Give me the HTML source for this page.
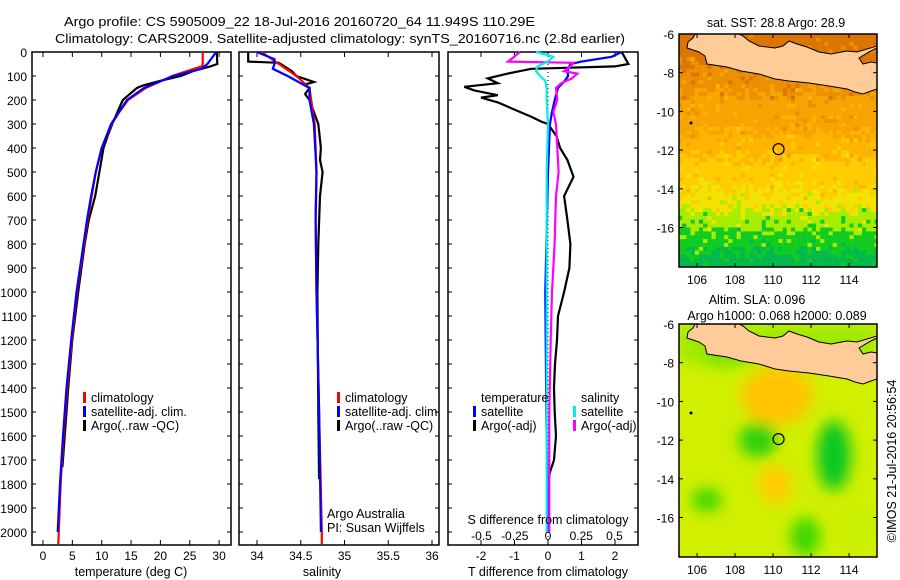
<!DOCTYPE html>
<html><head><meta charset="utf-8">
<style>
html,body{margin:0;padding:0;background:#fff;}
svg{display:block;font-family:"Liberation Sans",sans-serif;}
</style></head>
<body>
<svg id="fig" width="900" height="580" viewBox="0 0 900 580" xmlns="http://www.w3.org/2000/svg">
<rect width="900" height="580" fill="#fff"/>
<text x="64" y="26" font-size="13" textLength="471" lengthAdjust="spacingAndGlyphs">Argo profile: CS 5905009_22 18-Jul-2016 20160720_64 11.949S 110.29E</text>
<text x="55" y="43" font-size="13" textLength="570" lengthAdjust="spacingAndGlyphs">Climatology: CARS2009. Satellite-adjusted climatology: synTS_20160716.nc (2.8d earlier)</text>
<g id="g"></g>
</svg>
<script>
// ---------- data ----------
const depthTicks=[0,100,200,300,400,500,600,700,800,900,1000,1100,1200,1300,1400,1500,1600,1700,1800,1900,2000];
const tempTicks=[0,5,10,15,20,25,30];
const salTicks=[34,34.5,35,35.5,36];
const tdiffTicks=[-2,-1,0,1,2];
const sdiffTicks=[-0.5,-0.25,0,0.25,0.5];
const sdiffTickLabels=["-0.5","-0.25","0","0.25","0.5"];

const tArgoDepth=[0,50,60,70,80,100,120,140,150,200,250,300,350,400,500,600,700,800,1000,1200,1400,1500,1600,1730];
const tArgoVal=[29.6,29.7,28.5,27,25.5,23.5,20,17,16,13.6,12.7,11.8,11,10.3,9.6,8.9,7.8,7.1,6.0,5.0,4.3,4.0,3.7,3.3];
const tClimDepth=[0,55,60,80,100,150,200,250,300,400,500,600,700,800,1000,1200,1400,1600,1800,2000,2050];
const tClimVal=[27.2,27.2,27,24.5,22,17.5,14.5,13,11.7,10,9,8.3,7.6,7.0,5.8,4.9,4.1,3.5,3.0,2.7,2.6];
const tSatDepth=[0,50,70,100,150,200,300,400,500,600,700,800,1000,1200,1400,1600,1800,2000];
const tSatVal=[29.5,28,27,22.2,17.2,14.3,11.6,10,9,8.2,7.5,6.9,5.7,4.8,4.0,3.4,2.9,2.5];

const sArgoDepth=[0,40,45,80,100,125,135,150,175,200,250,300,400,450,500,600,800,1000,1500,1780];
const sArgoVal=[33.9,33.9,34.25,34.4,34.45,34.65,34.55,34.6,34.55,34.6,34.65,34.7,34.73,34.72,34.75,34.72,34.7,34.69,34.7,34.71];
const sClimDepth=[0,50,100,150,200,300,500,700,1000,1500,2000,2050];
const sClimVal=[34.05,34.25,34.45,34.6,34.62,34.66,34.68,34.67,34.68,34.71,34.74,34.74];
const sSatDepth=[0,30,50,70,100,150,200,300,500,700,1000,1500,2000];
const sSatVal=[34.0,34.2,34.2,34.18,34.35,34.6,34.6,34.65,34.68,34.67,34.68,34.71,34.73];

const dTArgoDepth=[0,50,60,70,90,110,130,145,160,180,190,210,240,270,290,300,350,400,450,520,600,700,800,900,1000,1100,1200,1300,1400,1500,1600,1700,1750,1780];
const dTArgoVal=[2.2,2.4,2.0,-0.5,-1.2,-1.8,-1.5,-2.5,-2.2,-1.5,-2.0,-1.5,-1.0,-0.5,-0.2,0,0.25,0.36,0.58,0.76,0.48,0.58,0.67,0.64,0.48,0.3,0.27,0.21,0.18,0.2,0.24,0.18,0.06,0.02];
const dTSatDepth=[0,20,40,50,80,100,120,150,200,250,300,500,1000,1500,2000];
const dTSatVal=[2.2,1.9,1.0,0.67,0.58,0.6,0.5,0.3,0.2,0.12,0.06,0,-0.08,-0.05,0];
const dSArgoDepth=[0,40,45,60,80,90,110,130,150,200,250,300,400,500,600,800,1000,1200,1500,2000];
const dSArgoVal=[-0.21,-0.3,0.19,0.17,0.12,0.22,0.18,0.1,0.06,0.07,0.04,0.06,0.07,0.08,0.06,0.05,0.03,0.02,0.01,0.01];
const dSSatDepth=[0,10,20,40,60,80,100,120,150,200,300,500,1000,2000];
const dSSatVal=[-0.09,-0.02,0.04,0.0,-0.08,-0.09,-0.06,-0.02,-0.01,-0.01,0,-0.01,-0.01,-0.01];

// map data
const latTicks=[-6,-8,-10,-12,-14,-16];
const lonTicks=[106,108,110,112,114];
const sstLatBands=[-6,-7.6,-9,-11,-12.3,-14,-15,-16,-17.2];
const sstBandColors=["#dc7400","#ec9000","#f8a400","#ffb400","#ffcc00","#f0e400","#a8ec00","#10cc20","#00b84c"];
const slaBlobLon=[110.2,110.1,109.2,113.2,106.5,111.7,107.5,114.5];
const slaBlobLat=[-9.7,-14.3,-12,-12.8,-15.1,-17,-7.5,-16.5];
const slaBlobColor=["#ffc400","#ffcc00","#30d010","#10c820","#40d800","#40d800","#80e400","#c8f000"];
const slaBlobRx=[1.9,0.9,1.0,0.9,0.8,0.8,1.2,1.0];
const slaBlobRy=[1.5,1.0,0.9,1.8,0.6,1.0,0.7,1.0];
const argoLon=110.29, argoLat=-11.949;

// ---------- helpers ----------
const NS="http://www.w3.org/2000/svg";
const G=document.getElementById('g');
function mk(tag,attrs,parent){const e=document.createElementNS(NS,tag);for(const k in attrs)e.setAttribute(k,attrs[k]);(parent||G).appendChild(e);return e;}
function txt(s,x,y,anchor,size,parent){const t=mk('text',{x:x,y:y,'text-anchor':anchor||'start','font-size':size||12},parent);t.textContent=s;return t;}

const Y0=52, Y1=545;
const yD=d=>Y0+d*0.24;
const xT=t=>43+t*5.87;
const xS=s=>257+(s-34)*87.5;
const xdT=t=>548+t*33.5;
const xdS=s=>548+s*133;

function panel(name,x0,x1){
  const r=mk('rect',{x:x0,y:Y0,width:x1-x0,height:Y1-Y0,fill:'none',stroke:'#000','stroke-width':1.5});
  
  
  depthTicks.forEach(d=>{
    mk('line',{x1:x0,x2:x0+4,y1:yD(d),y2:yD(d),stroke:'#000'});
    mk('line',{x1:x1-4,x2:x1,y1:yD(d),y2:yD(d),stroke:'#000'});
  });
}
function xticks(vals,fx,labels,ly){
  vals.forEach((v,i)=>{
    const x=fx(v);
    mk('line',{x1:x,x2:x,y1:Y0,y2:Y0+5,stroke:'#000'});
    mk('line',{x1:x,x2:x,y1:Y1-5,y2:Y1,stroke:'#000'});
    if(labels){const t=txt(labels[i],x,ly,'middle',12);
      
      }
  });
}
function series(name,depths,vals,fx,color){
  const pts=depths.map((d,i)=>fx(vals[i]).toFixed(1)+','+yD(d).toFixed(1)).join(' ');
  const p=mk('polyline',{points:pts,fill:'none',stroke:color,'stroke-width':2.2,'stroke-linejoin':'miter'});
  
  
}
function legendEntry(label,x,y,color){
  const g=mk('g',{});
  
  
  mk('rect',{x:x,y:y-10,width:3,height:11,fill:color},g);
  txt(label,x+8,y,'start',12.5,g);
}

// panel 1
panel('temperature-plot',32,231);
depthTicks.forEach(d=>{const t=txt(String(d),27,yD(d)+5,'end',12);
  
  });
xticks(tempTicks,xT,tempTicks.map(String),560);
series('temp-argo-line',tArgoDepth,tArgoVal,xT,'#000');
series('temp-climatology-line',tClimDepth,tClimVal,xT,'#f00');
series('temp-satellite-line',tSatDepth,tSatVal,xT,'#00f');
let t=txt('temperature (deg C)',131,576,'middle',12.5);


legendEntry('climatology',83,402,'#f00');
legendEntry('satellite-adj. clim.',83,416,'#00f');
legendEntry('Argo(..raw -QC)',83,430,'#000');

// panel 2
panel('salinity-plot',239,439);
xticks(salTicks,xS,salTicks.map(String),560);
series('sal-argo-line',sArgoDepth,sArgoVal,xS,'#000');
series('sal-climatology-line',sClimDepth,sClimVal,xS,'#f00');
series('sal-satellite-line',sSatDepth,sSatVal,xS,'#00f');
t=txt('salinity',322,576,'middle',12.5);


legendEntry('climatology',337,402,'#f00');
legendEntry('satellite-adj. clim.',337,416,'#00f');
legendEntry('Argo(..raw -QC)',337,430,'#000');
t=txt('Argo Australia',327,518,'start',12.5);


t=txt('PI: Susan Wijffels',327,532,'start',12.5);



// panel 3
panel('difference-plot',448,638);
xticks(tdiffTicks,xdT,tdiffTicks.map(String),560);
sdiffTicks.forEach((v,i)=>{const tt=txt(sdiffTickLabels[i],xdS(v),540,'middle',12);
  
  });
mk('line',{x1:548,x2:548,y1:Y0,y2:Y1,stroke:'#000','stroke-dasharray':'1,3'});
series('tdiff-argo-line',dTArgoDepth,dTArgoVal,xdT,'#000');
series('tdiff-satellite-line',dTSatDepth,dTSatVal,xdT,'#00f');
series('sdiff-argo-line',dSArgoDepth,dSArgoVal,xdS,'#f0f');
series('sdiff-satellite-line',dSSatDepth,dSSatVal,xdS,'#0ee');
t=txt('S difference from climatology',548,524,'middle',12.5);


t=txt('T difference from climatology',548,576,'middle',12.5);


t=txt('temperature',481,402,'start',12.5);


t=txt('salinity',581,402,'start',12.5);


legendEntry('satellite',473,416,'#00f');
legendEntry('Argo(-adj)',473,430,'#000');
legendEntry('satellite',573,416,'#0ee');
legendEntry('Argo(-adj)',573,430,'#f0f');

// ---------- maps ----------
const MX0=679,MX1=877;
const mx=lon=>MX0+(lon-105.05)*19;
function hash(i,j){let h=(i*374761393+j*668265263)|0;h=(h^(h>>>13))*1274126177|0;return ((h^(h>>>16))>>>0)/4294967296;}
// Java outline in pixel offsets relative to map top-left (679, top)
const javaPx=[[16,0],[14,4],[9,8],[8,14],[20,18],[26,22],[28,30],[48,33],[62,37],[80,40],[96,45],[110,47],[130,49],[150,52],[168,55],[176,58],[184,60],[192,57],[198,55],[198,29],[192,28],[184,30],[180,24],[190,18],[198,14],[198,12],[178,18],[168,17],[152,20],[140,18],[128,13],[118,10],[110,7],[104,12],[96,14],[80,12],[70,7],[64,2],[60,0]];
function mapFrame(name,top,bottom){
  const my=lat=>top+(-6-lat)*19.35;
  const grp=mk('g',{});
  
  
  const clipId='clip'+top;
  const cp=mk('clipPath',{id:clipId},grp);
  mk('rect',{x:MX0,y:top,width:MX1-MX0,height:bottom-top},cp);
  const inner=mk('g',{'clip-path':'url(#'+clipId+')'},grp);
  return {grp,inner,my};
}
function finishMap(m,top,bottom){
  const {grp,inner,my}=m;
  const pts=javaPx.map(p=>(MX0+p[0])+','+(top+p[1])).join(' ');
  const land=mk('polygon',{points:pts,fill:'#ffcc99',stroke:'#000','stroke-width':1},inner);
  
  
  mk('circle',{cx:691,cy:top+89,r:1.5,fill:'#000'},inner);
  const c=mk('circle',{cx:mx(argoLon),cy:my(argoLat),r:5.5,fill:'none',stroke:'#000','stroke-width':1.2},grp);
  
  
  mk('rect',{x:MX0,y:top,width:MX1-MX0,height:bottom-top,fill:'none',stroke:'#000','stroke-width':1.5},grp);
  latTicks.forEach(l=>{const y=my(l);
    mk('line',{x1:MX0,x2:MX0+4,y1:y,y2:y,stroke:'#000'},grp);
    mk('line',{x1:MX1-4,x2:MX1,y1:y,y2:y,stroke:'#000'},grp);
    const tt=txt(String(l),674,y+5,'end',12,grp);
    
    });
  lonTicks.forEach(l=>{const x=mx(l);
    mk('line',{x1:x,x2:x,y1:top,y2:top+4,stroke:'#000'},grp);
    mk('line',{x1:x,x2:x,y1:bottom-4,y2:bottom,stroke:'#000'},grp);
    const tt=txt(String(l),x,bottom+17,'middle',12,grp);
    
    });
}
// SST map
const m1=mapFrame('sst-map',34,267);
function bandColor(lat){let k=0;for(let i=0;i<sstLatBands.length;i++){if(lat<=sstLatBands[i])k=i;}return k;}
for(let j=0;j<60;j++){for(let i=0;i<50;i++){
  const lat=-6-j*0.2, lon=105+i*0.22;
  let k=bandColor(lat+(hash(i,j)-0.5)*1.0);
  const r=hash(j+7,i+3);
  if(r<0.08&&k>0)k--; else if(r>0.94&&k<sstBandColors.length-1)k++;
  mk('rect',{x:mx(lon).toFixed(1),y:m1.my(lat).toFixed(1),width:4.4,height:4.2,fill:sstBandColors[k]},m1.inner);
}}
finishMap(m1,34,267);
t=txt('sat. SST: 28.8 Argo: 28.9',776,27,'middle',12.5);



// SLA map
const m2=mapFrame('sla-map',324,557);
const defs=mk('defs',{});
const f=mk('filter',{id:'blur',x:'-50%',y:'-50%',width:'200%',height:'200%'},defs);
mk('feGaussianBlur',{stdDeviation:7},f);
mk('rect',{x:MX0,y:324,width:MX1-MX0,height:233,fill:'#d0f000'},m2.inner);
mk('rect',{x:MX0,y:324,width:MX1-MX0,height:40,fill:'#a0ea00',filter:'url(#blur)'},m2.inner);
const blobs=mk('g',{filter:'url(#blur)'},m2.inner);
slaBlobLon.forEach((lon,i)=>{
  const e=mk('ellipse',{cx:mx(lon),cy:m2.my(slaBlobLat[i]),rx:slaBlobRx[i]*19,ry:slaBlobRy[i]*19.35,fill:slaBlobColor[i]},blobs);
  
  
});
finishMap(m2,324,557);
t=txt('Altim. SLA: 0.096',757,304,'middle',12.5);


t=txt('Argo h1000: 0.068 h2000: 0.089',777,320,'middle',12.5);


t=txt('©IMOS 21-Jul-2016 20:56:54',0,0,'middle',12.5);
t.setAttribute('transform','translate(896,461) rotate(-90)');


</script>
</body></html>
